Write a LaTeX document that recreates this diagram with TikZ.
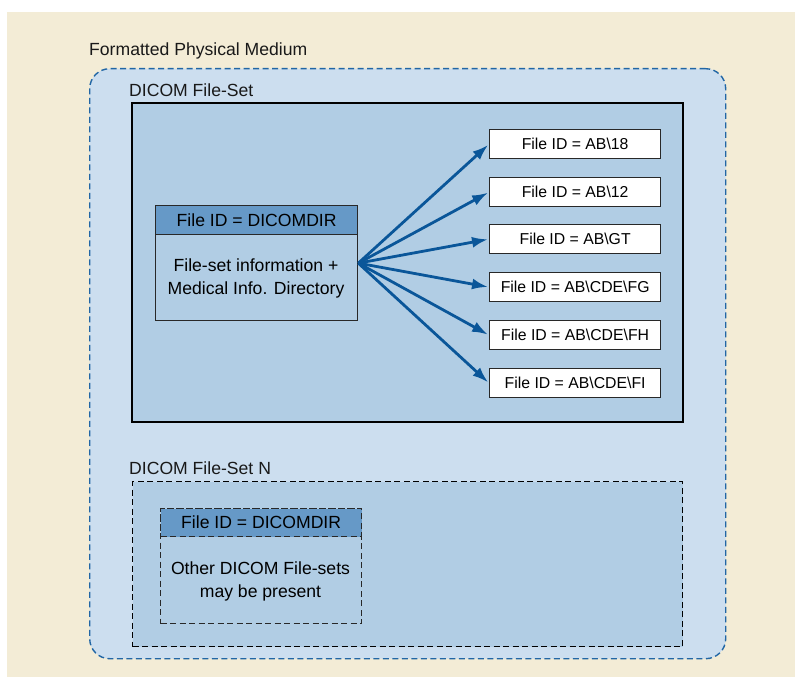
\documentclass[tikz,border=0pt]{standalone}
\usepackage{fontspec}
\setmainfont{Liberation Sans}
\usetikzlibrary{arrows.meta}
\definecolor{beigebg}{RGB}{243,236,214}
\definecolor{mediumfill}{RGB}{204,222,239}
\definecolor{setfill}{RGB}{177,205,228}
\definecolor{headfill}{RGB}{102,153,199}
\definecolor{mediumline}{RGB}{33,102,165}
\definecolor{arrowblue}{RGB}{10,86,153}
\definecolor{boxline}{RGB}{40,40,40}
\tikzset{
  labeltext/.style={anchor=base west, inner sep=0pt, font=\fontsize{17.6}{21}\selectfont, text=black!90},
  mediumbox/.style={draw=mediumline, fill=mediumfill, line width=1.4pt, dash pattern=on 6pt off 3.5pt, rounded corners=20pt, anchor=north west, inner sep=0pt},
  setbox/.style={draw=black, fill=setfill, line width=1.5pt, anchor=north west, inner sep=0pt},
  setboxN/.style={draw=black, fill=setfill, line width=1.3pt, dash pattern=on 6pt off 3.5pt, anchor=north west, inner sep=0pt},
  dirbox/.style={draw=boxline, fill=setfill, line width=1.3pt, anchor=north west, inner sep=0pt},
  headbox/.style={draw=boxline, fill=headfill, line width=1.3pt, anchor=north west, inner sep=0pt, font=\fontsize{17.6}{21}\selectfont},
  bodytext/.style={align=center, inner sep=0pt, font=\fontsize{17.6}{23}\selectfont},
  filebox/.style={draw=boxline, fill=white, line width=1.3pt, anchor=north west, inner sep=0pt, minimum width=171pt, minimum height=29pt, font=\fontsize{15.8}{19}\selectfont},
  link/.style={draw=arrowblue, line width=2.8pt, -{Latex[length=16pt,width=11pt]}, shorten >=1pt}
}
\begin{document}
\begin{tikzpicture}[x=1pt,y=-1pt]
\useasboundingbox (0,0) rectangle (795,677);
\fill[beigebg] (7,12) rectangle (795,677);

\node[labeltext] (medlabel) at (89,56) {Formatted Physical Medium};
\node[mediumbox, minimum width=636pt, minimum height=590pt] (medium) at (89,68) {};

\node[labeltext] (setlabel) at (129,96) {DICOM File-Set};
\node[setbox, minimum width=551pt, minimum height=319pt] (fileset) at (131,102) {};

\node[dirbox, minimum width=202pt, minimum height=115pt] (dd) at (155,205) {};
\node[headbox, minimum width=202pt, minimum height=29pt] (dh) at (155,205) {File ID = DICOMDIR};
\node[bodytext] (dt) at (256,278.5) {File-set information +\\Medical Info. Directory};

\node[filebox] (f1) at (489,129) {File ID = AB\textbackslash 18};
\node[filebox] (f2) at (489,177) {File ID = AB\textbackslash 12};
\node[filebox] (f3) at (489,224) {File ID = AB\textbackslash GT};
\node[filebox] (f4) at (489,272) {File ID = AB\textbackslash CDE\textbackslash FG};
\node[filebox] (f5) at (489,320) {File ID = AB\textbackslash CDE\textbackslash FH};
\node[filebox] (f6) at (489,368) {File ID = AB\textbackslash CDE\textbackslash FI};

\foreach \t in {f1,f2,f3,f4,f5,f6}
  \draw[link] (dd.east) -- (\t.west);

\node[labeltext] (setNlabel) at (129,474) {DICOM File-Set N};
\node[setboxN, minimum width=550pt, minimum height=165pt] (filesetN) at (132,481) {};

\node[dirbox, dash pattern=on 6pt off 3.5pt, minimum width=201pt, minimum height=115pt] (ddN) at (160,508) {};
\node[headbox, dash pattern=on 6pt off 3.5pt, minimum width=201pt, minimum height=28pt] (dhN) at (160,508) {File ID = DICOMDIR};
\node[bodytext] (dtN) at (260.5,581) {Other DICOM File-sets\\may be present};
\end{tikzpicture}
\end{document}
